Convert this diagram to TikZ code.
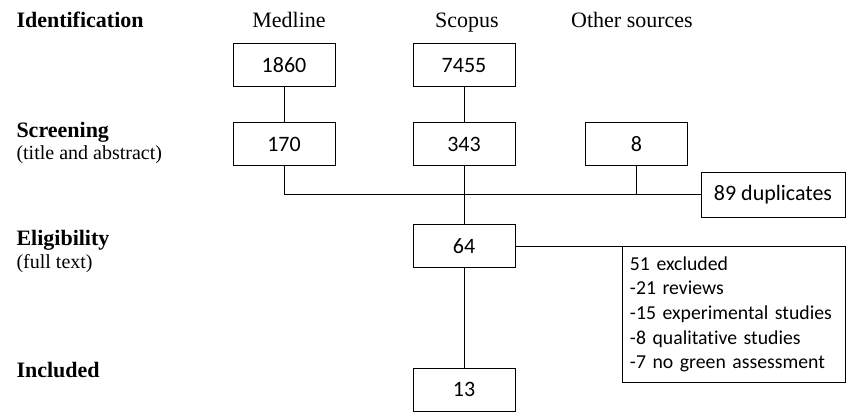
\documentclass[tikz,border=0pt]{standalone}
\usepackage{fontspec}
\setmainfont{Liberation Serif}
\newfontfamily\boxfont[Ligatures=NoCommon]{Carlito}

\tikzset{every picture/.style={line width=0.75pt}}
\tikzset{
  numbox/.style={draw, minimum width=76.5pt, minimum height=32.25pt, inner sep=0.75pt, font=\boxfont\fontsize{16.5}{19}\selectfont},
  stagelbl/.style={anchor=base west, inner sep=0.75pt, font=\bfseries\fontsize{16.5}{19}\selectfont},
  sublbl/.style={anchor=base west, inner sep=0.75pt, font=\fontsize{15}{18}\selectfont},
  srclbl/.style={anchor=base, inner sep=0.75pt, font=\fontsize{16.5}{19}\selectfont}
}

\begin{document}
\begin{tikzpicture}[x=0.75pt,y=0.75pt,yscale=-1,xscale=1]
\useasboundingbox (0,0) rectangle (848,413);

% Text Node
\node [stagelbl] (ident) at (15,28) {Identification};
% Text Node
\node [stagelbl] (screen) at (15,138) {Screening};
% Text Node
\node [sublbl] (screensub) at (15,160) {(title and abstract)};
% Text Node
\node [stagelbl] (elig) at (15,245) {Eligibility};
% Text Node
\node [sublbl] (eligsub) at (15,268) {(full text)};
% Text Node
\node [stagelbl] (incl) at (15,377) {Included};

% Text Node
\node [srclbl] (medline) at (289,28) {Medline};
% Text Node
\node [srclbl] (scopus) at (467,28) {Scopus};
% Text Node
\node [srclbl] (other) at (632,28) {Other sources};

%Shape: Rectangle
\node [numbox] (n1860) at (284,65.5) {1860};
%Shape: Rectangle
\node [numbox] (n7455) at (464,65.5) {7455};
%Shape: Rectangle
\node [numbox] (n170) at (284,144.5) {170};
%Shape: Rectangle
\node [numbox] (n343) at (464,144.5) {343};
%Shape: Rectangle
\node [numbox] (n8) at (636.5,144.5) {8};
%Shape: Rectangle
\node [numbox, minimum width=108pt, minimum height=33pt] (dup) at (773,195) {89 duplicates};
%Shape: Rectangle
\node [numbox] (n64) at (464,246) {64};
%Shape: Rectangle
\node [numbox] (n13) at (464,389.5) {13};
%Shape: Rectangle
\node [draw, anchor=north west, minimum height=102pt, text width=156pt, inner xsep=5.6pt, inner ysep=0.75pt, align=left, font=\boxfont\fontsize{14.8}{18.5}\selectfont] (excl) at (622,246) {51 excluded\\-21 reviews\\-15 experimental studies\\-8 qualitative studies\\-7 no green assessment};

%Straight Lines
\draw (n1860) -- (n170);
\draw (n7455) -- (n343);
%Straight Lines
\draw (n170) -- (n170 |- dup.west) -- (dup.west);
\draw (n8) -- (n8 |- dup.west);
%Straight Lines
\draw (n343) -- (n64);
\draw (n64) -- (n13);
%Straight Lines
\draw (n64.east) -- (n64.east -| excl.north);

\end{tikzpicture}
\end{document}
